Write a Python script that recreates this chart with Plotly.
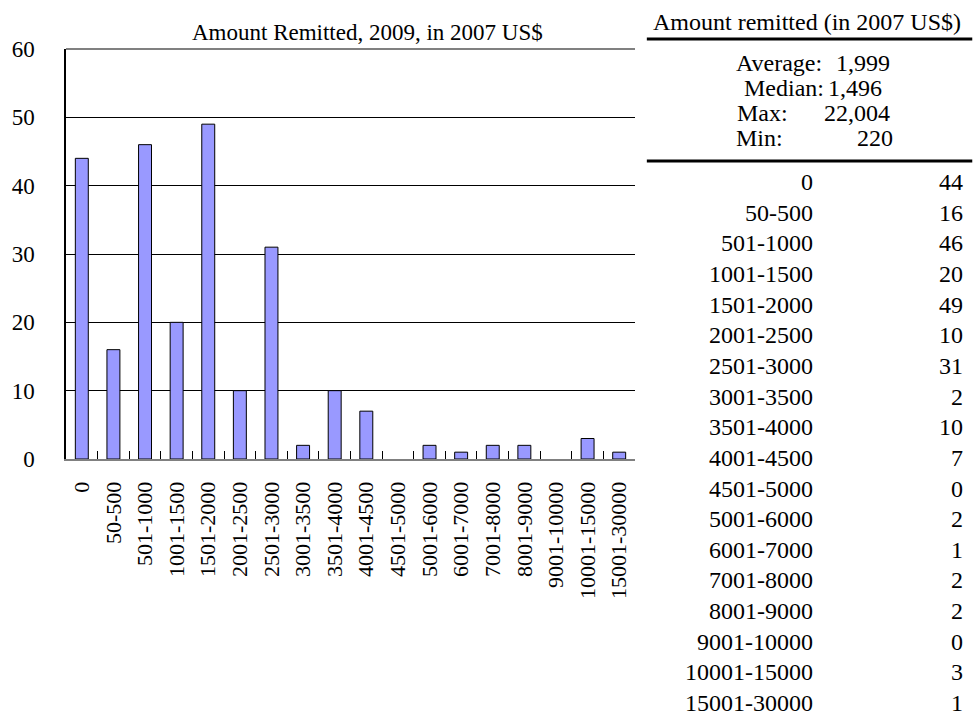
import plotly.graph_objects as go

categories = ["0", "50-500", "501-1000", "1001-1500", "1501-2000", "2001-2500",
              "2501-3000", "3001-3500", "3501-4000", "4001-4500", "4501-5000",
              "5001-6000", "6001-7000", "7001-8000", "8001-9000", "9001-10000",
              "10001-15000", "15001-30000"]
counts = [44, 16, 46, 20, 49, 10, 31, 2, 10, 7, 0, 2, 1, 2, 2, 0, 3, 1]

chart_title = "Amount Remitted, 2009, in 2007 US$"
table_title = "Amount remitted (in 2007 US$)"
stat_labels = ["Average:", "Median:", "Max:", "Min:"]
stat_values = ["1,999", "1,496", "22,004", "220"]
y_ticks = [0, 10, 20, 30, 40, 50, 60]

W, H = 977, 715
L, R, T, B = 58, 635, 49, 459
FONT = "Liberation Serif"
TFS = 24   # table font size


def px(x):
    return (x - L) / (R - L)


def py(y):
    return (B - y) / (B - T)


fig = go.Figure()
fig.add_trace(go.Bar(
    x=categories, y=counts,
    marker=dict(color="#9999FF",
                line=dict(color="#000000", width=[1 if v > 0 else 0 for v in counts])),
    hoverinfo="x+y",
))

annotations = []
shapes = []

annotations.append(dict(text=chart_title, xref="paper", yref="paper",
                        x=px(364), y=py(33), showarrow=False,
                        xanchor="center", yanchor="middle",
                        font=dict(family=FONT, size=23, color="#000")))

# top border of plot area
shapes.append(dict(type="line", xref="paper", yref="paper", x0=0, x1=1,
                   y0=1, y1=1, line=dict(color="#808080", width=2)))

# table header
annotations.append(dict(text=table_title, xref="paper", yref="paper",
                        x=px(651), y=py(22), showarrow=False,
                        xanchor="left", yanchor="middle",
                        font=dict(family=FONT, size=TFS, color="#000")))
shapes.append(dict(type="line", xref="paper", yref="paper", x0=px(647), x1=px(977),
                   y0=py(39), y1=py(39), line=dict(color="#000", width=3)))

stat_y = [63, 88, 113, 138]
stat_label_x = [735, 743, 736, 735]
stat_value_x = [896, 888, 896, 899]
for lab, val, yy, lx, vx in zip(stat_labels, stat_values, stat_y, stat_label_x, stat_value_x):
    annotations.append(dict(text=lab, xref="paper", yref="paper", x=px(lx), y=py(yy),
                            showarrow=False, xanchor="left", yanchor="middle",
                            font=dict(family=FONT, size=TFS, color="#000")))
    annotations.append(dict(text=val, xref="paper", yref="paper", x=px(vx), y=py(yy),
                            showarrow=False, xanchor="right", yanchor="middle",
                            font=dict(family=FONT, size=TFS, color="#000")))

shapes.append(dict(type="line", xref="paper", yref="paper", x0=px(647), x1=px(977),
                   y0=py(161), y1=py(161), line=dict(color="#000", width=3)))

row0, step = 182, 30.65
for i, (c, v) in enumerate(zip(categories, counts)):
    yy = row0 + i * step
    annotations.append(dict(text=c, xref="paper", yref="paper", x=px(818), y=py(yy),
                            showarrow=False, xanchor="right", yanchor="middle",
                            font=dict(family=FONT, size=TFS, color="#000")))
    annotations.append(dict(text=str(v), xref="paper", yref="paper", x=px(970), y=py(yy),
                            showarrow=False, xanchor="right", yanchor="middle",
                            font=dict(family=FONT, size=TFS, color="#000")))

fig.update_layout(
    width=W, height=H,
    margin=dict(l=L, r=W - R, t=T, b=H - B, pad=0),
    paper_bgcolor="white", plot_bgcolor="white",
    showlegend=False,
    bargap=0.59,
    font=dict(family=FONT, size=22, color="#000"),
    annotations=annotations,
    shapes=shapes,
)
fig.update_xaxes(
    type="category", range=[-0.5, len(categories) - 0.5],
    tickangle=-90, ticks="inside", tickson="boundaries", ticklen=8,
    tickcolor="#000", tickwidth=1,
    showline=True, linecolor="#808080", linewidth=2,
    showgrid=False, ticklabelstandoff=12,
    tickfont=dict(family=FONT, size=22, color="#000"),
)
fig.update_yaxes(
    range=[0, 60], tickvals=y_ticks, ticks="", showline=True,
    linecolor="#000", linewidth=1.5,
    showgrid=True, gridcolor="#000", gridwidth=1, zeroline=False,
    ticklabelstandoff=25,
    tickfont=dict(family=FONT, size=23, color="#000"),
)

fig.write_html("out.html",
               config={"displayModeBar": False},
               post_script="document.body.style.margin='0';document.body.style.overflow='hidden';")
